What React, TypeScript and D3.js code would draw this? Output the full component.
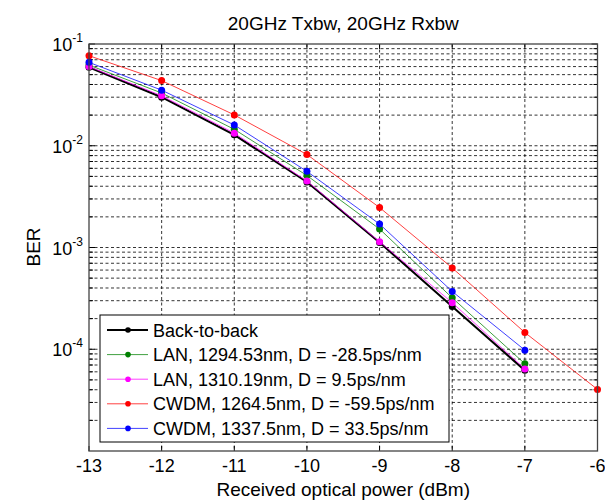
import * as d3 from "d3";

const title = "20GHz Txbw, 20GHz Rxbw";
const xLabel = "Received optical power (dBm)";
const yLabel = "BER";

const xTicks = [-13, -12, -11, -10, -9, -8, -7, -6];
const yDecades = [-1, -2, -3, -4];

const power = [-13, -12, -11, -10, -9, -8, -7];
const powerRed = [-13, -12, -11, -10, -9, -8, -7, -6];

const berB2B = [0.059, 0.030, 0.0128, 0.0044, 0.00112, 0.000263, 0.000062];
const berLan1294 = [0.062, 0.033, 0.0145, 0.0051, 0.00152, 0.00032, 0.000072];
const berLan1310 = [0.060, 0.031, 0.0133, 0.0045, 0.00114, 0.000287, 0.000064];
const berCwdm1264 = [0.0767, 0.0437, 0.0201, 0.0082, 0.00247, 0.00063, 0.000146, 0.0000403];
const berCwdm1337 = [0.066, 0.0352, 0.016, 0.0056, 0.0017, 0.00037, 0.000098];

const series = [
  { name: "Back-to-back", x: power, y: berB2B, color: "#000000", width: 2 },
  { name: "LAN, 1294.53nm, D = -28.5ps/nm", x: power, y: berLan1294, color: "#008000", width: 1 },
  { name: "LAN, 1310.19nm, D = 9.5ps/nm", x: power, y: berLan1310, color: "#ff00ff", width: 1 },
  { name: "CWDM, 1264.5nm, D = -59.5ps/nm", x: powerRed, y: berCwdm1264, color: "#ff0000", width: 1 },
  { name: "CWDM, 1337.5nm, D = 33.5ps/nm", x: power, y: berCwdm1337, color: "#0000ff", width: 1 },
];

const W = 605;
const H = 500;
const left = 89;
const right = 597.5;
const top = 44;
const bottom = 451;
const font = "Arial, 'Liberation Sans', sans-serif";

export default function App() {
  const x = d3.scaleLinear().domain([-13, -6]).range([left, right]);
  const y = d3.scaleLog().domain([1e-5, 1e-1]).range([bottom, top]);

  // minor decades 2..9 for each decade
  const minorY: number[] = [];
  [-2, -3, -4, -5].forEach((e) => {
    for (let m = 2; m <= 9; m++) minorY.push(m * Math.pow(10, e));
  });
  const majorY = yDecades.map((e) => Math.pow(10, e));

  const line = d3
    .line<[number, number]>()
    .x((d) => x(d[0]))
    .y((d) => y(d[1]));

  const legX = 100;
  const legY = 315;
  const legW = 349;
  const legH = 127;
  const rowH = 24.6;

  return (
    <svg
      width={W}
      height={H}
      style={{ position: "absolute", left: 0, top: 0, background: "#fff" }}
      fontFamily={font}
    >
      <rect x={0} y={0} width={W} height={H} fill="#fff" />

      {/* grid */}
      <g stroke="#000" strokeWidth={0.8} strokeDasharray="3,2.5">
        {xTicks.slice(1, -1).map((t) => (
          <line key={"gx" + t} x1={x(t)} x2={x(t)} y1={top} y2={bottom} />
        ))}
        {majorY.slice(1).concat(minorY).map((v, i) => (
          <line key={"gy" + i} x1={left} x2={right} y1={y(v)} y2={y(v)} />
        ))}
      </g>

      {/* ticks */}
      <g stroke="#000" strokeWidth={1}>
        {xTicks.map((t) => (
          <g key={"tx" + t}>
            <line x1={x(t)} x2={x(t)} y1={bottom} y2={bottom - 5} />
            <line x1={x(t)} x2={x(t)} y1={top} y2={top + 5} />
          </g>
        ))}
        {majorY.concat(minorY).map((v, i) => (
          <g key={"ty" + i}>
            <line x1={left} x2={left + (i < majorY.length ? 6 : 4)} y1={y(v)} y2={y(v)} />
            <line x1={right} x2={right - (i < majorY.length ? 6 : 4)} y1={y(v)} y2={y(v)} />
          </g>
        ))}
      </g>

      {/* series */}
      {series.map((s) => {
        const pts = s.x.map((v, i) => [v, s.y[i]] as [number, number]);
        return (
          <g key={s.name}>
            <path d={line(pts) || ""} fill="none" stroke={s.color} strokeWidth={s.width} strokeOpacity={s.width > 1 ? 1 : 0.75} />
            {pts.map((p, i) => (
              <circle key={i} cx={x(p[0])} cy={y(p[1])} r={3.5} fill={s.color} />
            ))}
          </g>
        );
      })}

      {/* axes box */}
      <rect x={left} y={top} width={right - left} height={bottom - top} fill="none" stroke="#444" strokeWidth={1.3} />

      {/* x tick labels */}
      {xTicks.map((t) => (
        <text key={"xl" + t} x={x(t)} y={bottom + 21} textAnchor="middle" fontSize={18} fill="#000">
          {t}
        </text>
      ))}

      {/* y tick labels */}
      {yDecades.map((e) => (
        <text key={"yl" + e} x={left - 6} y={y(Math.pow(10, e)) + 7} textAnchor="end" fontSize={18} fill="#000">
          10
          <tspan fontSize={12} dy={-9}>
            {e}
          </tspan>
        </text>
      ))}

      {/* titles */}
      <text x={(left + right) / 2} y={30} textAnchor="middle" fontSize={19} fill="#000">
        {title}
      </text>
      <text x={(left + right) / 2} y={496} textAnchor="middle" fontSize={19} fill="#000">
        {xLabel}
      </text>
      <text
        transform={`translate(40, 247) rotate(-90)`}
        textAnchor="middle"
        fontSize={19}
        fill="#000"
      >
        {yLabel}
      </text>

      {/* legend */}
      <rect x={legX} y={legY} width={legW} height={legH} fill="#fff" stroke="#000" strokeWidth={1} />
      {series.map((s, i) => {
        const cy = legY + 15 + i * rowH;
        return (
          <g key={"lg" + i}>
            <line x1={legX + 7} x2={legX + 48} y1={cy} y2={cy} stroke={s.color} strokeWidth={s.width} strokeOpacity={s.width > 1 ? 1 : 0.75} />
            <circle cx={legX + 28} cy={cy} r={2.8} fill={s.color} />
            <text x={legX + 53} y={cy + 6.5} fontSize={18} fill="#000">
              {s.name}
            </text>
          </g>
        );
      })}
    </svg>
  );
}
